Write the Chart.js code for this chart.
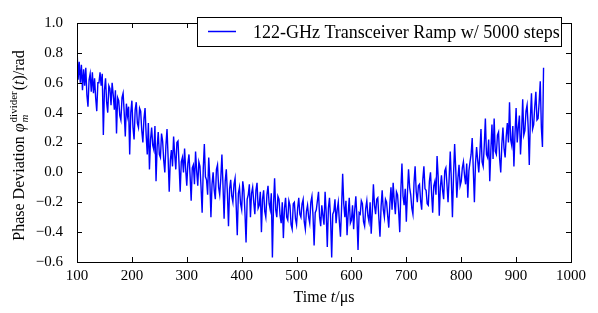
<!DOCTYPE html>
<html>
<head>
<meta charset="utf-8">
<script src="https://cdn.jsdelivr.net/npm/chart.js@4.4.0/dist/chart.umd.min.js"></script>
<style>
  body { margin: 0; background: #fff; }
  canvas { display: block; }
</style>
</head>
<body>
<canvas id="grafico" width="598" height="313"></canvas>
<script>
// Valores (desvio de fase em rad, passo de 2 us a partir de 100 us)
var tempoInicio = 100;
var tempoPasso = 2;
var desvioFase = [
    0.84, 0.62, 0.74, 0.60, 0.72, 0.55, 0.69, 0.58, 0.70, 0.52, 0.44, 0.62, 0.66, 0.54, 0.67, 0.53, 0.63, 0.50, 0.41, 0.60,
    0.60, 0.67, 0.58, 0.66, 0.25, 0.55, 0.63, 0.47, 0.40, 0.58, 0.56, 0.45, 0.60, 0.52, 0.42, 0.55, 0.26, 0.50, 0.48, 0.38,
    0.35, 0.50, 0.53, 0.40, 0.24, 0.46, 0.38, 0.44, 0.12, 0.40, 0.48, 0.30, 0.22, 0.42, 0.47, 0.33, 0.30, 0.43, 0.41, 0.28,
    0.20, 0.36, 0.43, 0.25, 0.12, 0.33, 0.02, 0.22, 0.30, 0.18, 0.15, 0.31, -0.06, 0.17, 0.27, 0.12, 0.10, 0.26, 0.21, 0.08,
    0.00, 0.18, 0.29, 0.10, -0.13, 0.08, 0.15, 0.04, 0.24, 0.12, 0.02, 0.20, 0.21, 0.05, -0.13, 0.07, 0.10, 0.00, 0.16, 0.02,
    -0.09, 0.06, 0.12, -0.02, -0.19, 0.03, 0.05, -0.08, 0.14, 0.01, -0.09, 0.07, 0.04, -0.10, -0.27, 0.02, 0.19, -0.03, -0.05, -0.15,
    0.10, -0.05, -0.30, -0.08, 0.00, -0.12, -0.18, 0.02, 0.05, -0.10, -0.15, -0.04, 0.12, -0.09, -0.31, -0.06, 0.02, -0.14, -0.36, -0.11,
    -0.05, -0.16, -0.20, -0.08, -0.04, -0.22, -0.42, -0.14, -0.10, -0.21, -0.25, -0.06, -0.12, -0.27, -0.47, -0.18, -0.15, -0.08, -0.30, -0.14,
    -0.10, -0.20, -0.28, -0.12, -0.07, -0.24, -0.22, -0.13, -0.40, -0.18, -0.12, -0.26, -0.30, -0.15, -0.09, -0.21, -0.25, -0.14, -0.57, -0.22,
    -0.04, -0.25, -0.30, -0.16, -0.18, -0.29, -0.34, -0.20, -0.44, -0.24, -0.17, -0.30, -0.32, -0.19, -0.22, -0.35, -0.38, -0.21, -0.20, -0.31,
    -0.35, -0.24, -0.17, -0.28, -0.30, -0.21, -0.18, -0.33, -0.38, -0.26, -0.22, -0.30, -0.34, -0.20, -0.16, -0.29, -0.49, -0.27, -0.25, -0.19,
    -0.13, -0.30, -0.36, -0.22, -0.29, -0.35, -0.13, -0.27, -0.50, -0.24, -0.17, -0.31, -0.57, -0.28, -0.26, -0.18, -0.34, -0.25, -0.20, -0.33,
    -0.43, -0.24, -0.01, -0.21, -0.30, -0.19, -0.42, -0.28, -0.17, -0.34, -0.32, -0.22, -0.38, -0.25, -0.16, -0.30, -0.52, -0.27, -0.28, -0.19,
    -0.21, -0.33, -0.36, -0.24, -0.19, -0.29, -0.33, -0.20, -0.41, -0.26, -0.08, -0.22, -0.28, -0.18, -0.17, -0.31, -0.43, -0.23, -0.12, -0.25,
    -0.30, -0.18, -0.20, -0.29, -0.37, -0.21, -0.10, -0.25, -0.07, -0.19, -0.28, -0.13, -0.15, -0.26, -0.40, -0.12, 0.06, -0.16, -0.22, -0.11,
    -0.33, -0.14, 0.02, -0.10, -0.15, -0.24, -0.28, -0.07, 0.04, -0.13, -0.20, -0.09, -0.08, -0.19, -0.25, -0.05, 0.04, -0.11, -0.12, -0.21,
    -0.22, -0.06, 0.00, -0.14, -0.27, -0.09, -0.06, -0.15, 0.11, -0.03, -0.29, -0.10, -0.02, -0.12, -0.18, 0.01, 0.03, -0.08, -0.20, -0.04,
    0.14, -0.05, -0.30, -0.02, 0.19, 0.02, -0.17, -0.04, 0.05, -0.09, -0.06, 0.03, 0.07, -0.02, -0.08, 0.06, -0.17, 0.01, 0.07, 0.12,
    0.23, 0.02, -0.20, 0.06, 0.17, 0.08, 0.00, 0.13, 0.29, 0.07, 0.04, 0.18, 0.36, 0.12, 0.10, 0.22, -0.06, 0.15, 0.32, 0.09,
    0.36, 0.14, 0.12, 0.25, 0.27, 0.09, 0.00, 0.19, 0.30, 0.16, 0.10, 0.24, 0.33, 0.20, 0.47, 0.22, 0.18, 0.31, 0.04, 0.26,
    0.43, 0.20, 0.30, 0.38, 0.12, 0.27, 0.49, 0.25, 0.28, 0.41, 0.45, 0.30, 0.05, 0.36, 0.53, 0.29, 0.32, 0.44, 0.54, 0.35,
    0.36, 0.47, 0.61, 0.30, 0.17, 0.70
];
var ticksX = [100, 200, 300, 400, 500, 600, 700, 800, 900, 1000];
var ticksY = [-0.6, -0.4, -0.2, 0.0, 0.2, 0.4, 0.6, 0.8, 1.0];
var legenda = "122-GHz Transceiver Ramp w/ 5000 steps";

var fonteSerif = "'Liberation Serif', 'DejaVu Serif', serif";

// Monta os pontos (tempo, fase)
var pontos = desvioFase.map(function (v, i) {
    return { x: tempoInicio + i * tempoPasso, y: v };
});

function formatarY(v) {
    var s = Math.abs(v).toFixed(1);
    return v < -1e-9 ? "\u2212" + s : s;
}

function desenharPartes(c, partes, cx, base, tam) {
    var total = 0;
    partes.forEach(function (p) {
        c.font = p[1] + tam + "px " + fonteSerif;
        total += c.measureText(p[0]).width;
    });
    var x = cx - total / 2;
    c.textAlign = "left";
    c.textBaseline = "alphabetic";
    c.fillStyle = "#000";
    partes.forEach(function (p) {
        c.font = p[1] + tam + "px " + fonteSerif;
        c.fillText(p[0], x, base);
        x += c.measureText(p[0]).width;
    });
}

// Moldura, ticks para dentro, legenda e títulos dos eixos
var pluginMoldura = {
    id: "moldura",
    afterDraw: function (chart) {
        var c = chart.ctx;
        var a = chart.chartArea;
        var sx = chart.scales.x;
        var sy = chart.scales.y;
        c.save();
        c.strokeStyle = "#000";
        c.lineWidth = 1;
        c.strokeRect(a.left + 0.5, a.top + 0.5, a.right - a.left, a.bottom - a.top);
        c.beginPath();
        ticksX.forEach(function (t) {
            var px = Math.round(sx.getPixelForValue(t)) + 0.5;
            c.moveTo(px, a.bottom); c.lineTo(px, a.bottom - 5);
            c.moveTo(px, a.top); c.lineTo(px, a.top + 5);
        });
        ticksY.forEach(function (t) {
            var py = Math.round(sy.getPixelForValue(t)) + 0.5;
            c.moveTo(a.left, py); c.lineTo(a.left + 5, py);
            c.moveTo(a.right, py); c.lineTo(a.right - 5, py);
        });
        c.stroke();

        // legenda
        c.fillStyle = "#fff";
        c.fillRect(197, 17, 365, 30);
        c.strokeRect(197.5, 17.5, 364, 29);
        c.strokeStyle = chart.data.datasets[0].borderColor;
        c.lineWidth = 1.5;
        c.beginPath();
        c.moveTo(208, 31.5); c.lineTo(236, 31.5);
        c.stroke();
        c.fillStyle = "#000";
        c.font = "18px " + fonteSerif;
        c.textBaseline = "alphabetic";
        c.textAlign = "left";
        c.fillText(chart.data.datasets[0].label, 253, 38);

        // título do eixo x
        var partesX = [["Time ", ""], ["t", "italic "], ["/\u03bcs", ""]];
        desenharPartes(c, partesX, (a.left + a.right) / 2, 302, 16);

        // título do eixo y (rotacionado)
        c.translate(24, (a.top + a.bottom) / 2 + 3);
        c.rotate(-Math.PI / 2);
        var f = 16, fp = 11;
        function medir(txt, estilo, tam) {
            c.font = estilo + tam + "px " + fonteSerif;
            return c.measureText(txt).width;
        }
        var w1 = medir("Phase Deviation ", "", f);
        var w2 = medir("\u03c6", "italic ", f);
        var w3 = Math.max(medir("divider", "", fp), medir("m", "italic ", fp));
        var w4 = medir("(", "", f);
        var w5 = medir("t", "italic ", f);
        var w6 = medir(")/rad", "", f);
        var larg = w1 + w2 + 1 + w3 + 1 + w4 + w5 + w6;
        var x0 = -larg / 2;
        c.font = f + "px " + fonteSerif; c.fillText("Phase Deviation ", x0, 0); x0 += w1;
        c.font = "italic " + f + "px " + fonteSerif; c.fillText("\u03c6", x0, 0); x0 += w2 + 1;
        c.font = fp + "px " + fonteSerif; c.fillText("divider", x0, -7);
        c.font = "italic " + fp + "px " + fonteSerif; c.fillText("m", x0, 4);
        x0 += w3 + 1;
        c.font = f + "px " + fonteSerif; c.fillText("(", x0, 0); x0 += w4;
        c.font = "italic " + f + "px " + fonteSerif; c.fillText("t", x0, 0); x0 += w5;
        c.font = f + "px " + fonteSerif; c.fillText(")/rad", x0, 0);
        c.restore();
    }
};

var ctx = document.getElementById("grafico");
var chart = new Chart(ctx, {
    type: "line",
    data: {
        datasets: [{
            label: legenda,
            data: pontos,
            borderColor: "#0000ff",
            borderWidth: 1.4,
            pointRadius: 0,
            tension: 0,
            fill: false
        }]
    },
    options: {
        responsive: false,
        animation: false,
        layout: { padding: { top: 7, right: 27, left: 0, bottom: 0 } },
        plugins: { legend: { display: false }, tooltip: { enabled: false } },
        scales: {
            x: {
                type: "linear",
                min: 100,
                max: 1000,
                afterBuildTicks: function (s) { s.ticks = ticksX.map(function (v) { return { value: v }; }); },
                afterFit: function (s) { s.height = 51; },
                grid: { display: false, drawTicks: false },
                border: { display: false },
                ticks: {
                    padding: 5,
                    maxRotation: 0,
                    autoSkip: false,
                    color: "#000",
                    font: { family: fonteSerif, size: 15 },
                    callback: function (v) { return String(v); }
                }
            },
            y: {
                min: -0.6,
                max: 1.0,
                afterBuildTicks: function (s) { s.ticks = ticksY.map(function (v) { return { value: v }; }); },
                afterFit: function (s) { s.width = 77; },
                grid: { display: false, drawTicks: false },
                border: { display: false },
                ticks: {
                    padding: 14,
                    color: "#000",
                    font: { family: fonteSerif, size: 15 },
                    callback: function (v) { return formatarY(v); }
                }
            }
        }
    },
    plugins: [pluginMoldura]
});
</script>
</body>
</html>
